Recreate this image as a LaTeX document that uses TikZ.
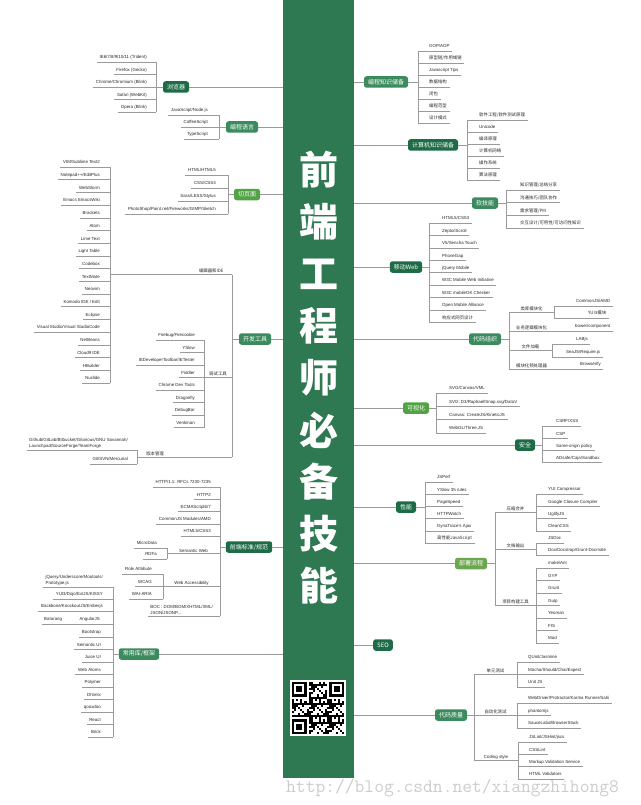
\documentclass[tikz,border=0pt]{standalone}
\usepackage{fontspec}
\setmainfont{Liberation Sans}
\newfontfamily\cjk{Noto Sans CJK SC}
\newfontfamily\urlfont{Latin Modern Mono}
\usetikzlibrary{calc}

\definecolor{bargreen}{HTML}{2E7852}
\definecolor{darkgreen}{HTML}{1E6B47}
\definecolor{midgreen}{HTML}{3C8B5E}
\definecolor{brightgreen}{HTML}{52A345}
\definecolor{olivegreen}{HTML}{6BA74F}
\definecolor{wiregray}{HTML}{9A9A9A}

\tikzset{
  topic/.style={fill=#1, rounded corners=2.5pt, text=white, font=\cjk\fontsize{6}{6}\selectfont,
    inner xsep=4pt, inner ysep=0pt, minimum height=11.5pt},
  leaf/.style={font=\fontsize{4.4}{5.8}\selectfont, text=black!85, inner xsep=2.5pt, inner ysep=1pt},
  lab/.style={font=\fontsize{4.4}{5.8}\selectfont, text=black!85, inner sep=1pt},
  wire/.style={draw=wiregray, line width=0.45pt},
}

% leaf to the left / right of a trunk at x=#3, underline at y=#4
\newcommand\lleaf[5][10]{%
  \coordinate (#2-u) at (#3,#4);
  \node[leaf, anchor=base east] (#2) at ([xshift=2.5pt-#1pt, yshift=3.2pt]#2-u) {#5};
  \draw[wire] (#2.west |- #2-u) -- (#2-u);}
\newcommand\rleaf[5][11]{%
  \coordinate (#2-u) at (#3,#4);
  \node[leaf, anchor=base west] (#2) at ([xshift=#1pt-2.5pt, yshift=3.2pt]#2-u) {#5};
  \draw[wire] (#2-u) -- (#2.east |- #2-u);}

\begin{document}
\begin{tikzpicture}[x=1pt, y=-1pt]
\useasboundingbox (0,0) rectangle (640,805);

\node[fill=bargreen, anchor=north west, minimum width=71pt, minimum height=778pt, inner sep=0] (bar) at (283,0) {};
\foreach \c [count=\k from 0] in {前,端,工,程,师,必,备,技,能}
  \node[font=\cjk\bfseries\fontsize{39}{39}\selectfont, text=white] (title\k) at (319,170+52*\k) {\c};

% browsers
\node[topic=darkgreen] (br) at (176,87) {浏览器};
\foreach \t [count=\i] in {IE6/7/8/9/10/11 (Trident), Firefox (Gecko), Chrome/Chromium (Blink), Safari (WebKit), Opera (Blink)}
  {\lleaf[9]{br\i}{156}{49.5+12.5*\i}{\t}}
\draw[wire] (br1-u) -- (br5-u);
\draw[wire] (br.west) -- (br.west -| br1-u);
\draw[wire] (br.east) -- (br.east -| bar.west);

% languages
\node[topic=midgreen] (pl) at (242,127) {编程语言};
\foreach \t [count=\i] in {JavaScript/Node.js, CoffeeScript, TypeScript}
  {\lleaf[11]{pl\i}{219}{103+12*\i}{\t}}
\draw[wire] (pl1-u) -- (pl3-u);
\draw[wire] (pl.west) -- (pl.west -| pl1-u);
\draw[wire] (pl.east) -- (pl.east -| bar.west);

% pages
\node[topic=brightgreen] (pg) at (247,194.5) {切页面};
\foreach \t [count=\i] in {HTML/HTML5, CSS/CSS3, Sass/LESS/Stylus, PhotoShop/Paint.net/Fireworks/GIMP/Sketch}
  {\lleaf[12]{pg\i}{228}{162+13*\i}{\t}}
\draw[wire] (pg1-u) -- (pg4-u);
\draw[wire] (pg.west) -- (pg.west -| pg1-u);
\draw[wire] (pg.east) -- (pg.east -| bar.west);

% tools
\node[topic=midgreen] (dt) at (255,339) {开发工具};
\coordinate (dtT) at (232,274.5);
\coordinate (dtB) at (232,457);
\draw[wire] (dtT) -- (dtB);
\draw[wire] (dt.west) -- (dt.west -| dtT);
\draw[wire] (dt.east) -- (dt.east -| bar.west);
\foreach \t [count=\i] in {VIM/Sublime Text2, Notepad++/EditPlus, WebStorm, Emacs EmacsWiki, Brackets, Atom,
    Lime Text, Light Table, Codebox, TextMate, Neovim, Komodo IDE / Edit, Eclipse,
    Visual Studio/Visual StudioCode, NetBeans, Cloud9 IDE, HBuilder, Nuclide}
  {\lleaf{ed\i}{110}{154.3+12.7*\i}{\t}}
\draw[wire] (ed1-u) -- (ed18-u);
\draw[wire] (ed1-u |- dtT) -- node[lab, above, pos=.83] {\cjk 编辑器和IDE} (dtT);
\foreach \t [count=\i] in {Firebug/Firecookie, YSlow, IEDeveloperToolbar/IETester, Fiddler, Chrome Dev Tools,
    Dragonfly, DebugBar, Venkman}
  {\lleaf[9]{db\i}{204}{327.5+12.5*\i}{\t}}
\draw[wire] (db1-u) -- (db8-u);
\draw[wire] (db4-u) -- node[lab, above] {\cjk 调试工具} (db4-u -| dtT);
\coordinate (vc1-u) at (137,450);
\node[leaf, anchor=south east, align=left] (vc1) at ([xshift=-6.5pt, yshift=0.5pt]vc1-u)
  {Github/GitLab/Bitbucket/Gitorious/GNU Savannah/\\Launchpad/SourceForge/TeamForge};
\draw[wire] (vc1.west |- vc1-u) -- (vc1-u);
\lleaf[9]{vc2}{137}{464}{Git/SVN/Mercurial}
\draw[wire] (vc1-u) -- (vc2-u);
\draw[wire] (dtB -| vc1-u) -- node[lab, above, pos=.19] {\cjk 版本管理} (dtB);

% standards
\node[topic=darkgreen] (st) at (249,547) {前端标准/规范};
\foreach \t [count=\i] in {HTTP/1.1: RFCs 7230-7235, HTTP2, ECMAScript6/7, CommonJS Modules/AMD, HTML5/CSS3}
  {\lleaf[9]{st\i}{220}{474.6+12.3*\i}{\t}}
\lleaf{sw1}{167}{548}{MicroData}
\lleaf{sw2}{167}{559}{RDFa}
\draw[wire] (sw1-u) -- (sw2-u);
\coordinate (swj) at ($(sw1-u)!.5!(sw2-u)$);
\draw[wire] (swj) -- node[lab, above] {Semantic Web} (swj -| st1-u);
\lleaf[11]{wa1}{163}{574}{Role Attribute}
\lleaf[11]{wa2}{163}{586.5}{WCAG}
\lleaf[11]{wa3}{163}{599}{WAI-ARIA}
\draw[wire] (wa1-u) -- (wa3-u);
\draw[wire] (wa2-u) -- node[lab, above] {Web Accessibility} (wa2-u -| st1-u);
\coordinate (st6-u) at (220,616);
\node[leaf, anchor=south east, align=left] (st6) at ([xshift=-4.5pt, yshift=0.5pt]st6-u)
  {BOC : DOM/BOM/XHTML/XML/\\JSON/JSONP...};
\draw[wire] (st6.west |- st6-u) -- (st6-u);
\draw[wire] (st1-u) -- (st6-u);
\draw[wire] (st.west) -- (st.west -| st1-u);
\draw[wire] (st.east) -- (st.east -| bar.west);

% libraries
\node[topic=midgreen] (lib) at (139,654) {常用库/框架};
\coordinate (lib1-u) at (113,587);
\node[leaf, anchor=south east, align=left] (lib1) at ([xshift=-7.5pt, yshift=0.5pt]lib1-u)
  {jQuery/Underscore/Mootools/\\Prototype.js};
\draw[wire] (lib1.west |- lib1-u) -- (lib1-u);
\lleaf{lib2}{113}{599}{YUI3/Dojo/ExtJS/KISSY}
\lleaf{lib3}{113}{611}{Backbone/KnockoutJS/Emberjs}
\lleaf[13]{lib4}{113}{624}{AngularJS}
\node[leaf, anchor=base east] (bat) at ([xshift=-12pt]lib4.base west) {Batarang};
\draw[wire] (bat.west |- lib4-u) -- (lib4.west |- lib4-u);
\foreach \t [count=\i from 5] in {Bootstrap, Semantic UI, Juice UI, Web Atoms, Polymer, Dhtmlx, qooxdoo, React, Brick}
  {\lleaf[12]{lib\i}{113}{574.5+12.5*\i}{\t}}
\draw[wire] (lib1-u) -- (lib13-u);
\draw[wire] (lib.west) -- (lib.west -| lib1-u);
\draw[wire] (lib.east) -- (lib.east -| bar.west);

% programming knowledge
\node[topic=midgreen] (kn) at (386,82) {编程知识储备};
\foreach \t [count=\i] in {OOP/AOP, {\cjk 原型链/作用域链}, Javascript Tips, {\cjk 数据结构}, {\cjk 闭包},
    {\cjk 编程范型}, {\cjk 设计模式}}
  {\rleaf{kn\i}{418}{39+12*\i}{\t}}
\draw[wire] (kn1-u) -- (kn7-u);
\draw[wire] (kn.east) -- (kn.east -| kn1-u);
\draw[wire] (kn.west) -- (kn.west -| bar.east);

% computer knowledge
\node[topic=darkgreen] (cs) at (433,145) {计算机知识储备};
\foreach \t [count=\i] in {{\cjk 软件工程/软件测试原理}, Unicode, {\cjk 编译原理}, {\cjk 计算机网络}, {\cjk 操作系统},
    {\cjk 算法原理}}
  {\rleaf[12]{cs\i}{467}{108+12*\i}{\t}}
\draw[wire] (cs1-u) -- (cs6-u);
\draw[wire] (cs.east) -- (cs.east -| cs1-u);
\draw[wire] (cs.west) -- (cs.west -| bar.east);

% soft skills
\node[topic=midgreen] (sk) at (485,203) {软技能};
\foreach \t [count=\i] in {知识管理/总结分享, 沟通技巧/团队协作, 需求管理/PM, 交互设计/可用性/可访问性知识}
  {\rleaf[14]{sk\i}{506}{177.3+12.7*\i}{\cjk\t}}
\draw[wire] (sk1-u) -- (sk4-u);
\draw[wire] (sk.east) -- (sk.east -| sk1-u);
\draw[wire] (sk.west) -- (sk.west -| bar.east);

% mobile web
\node[topic=darkgreen] (mw) at (406,267) {移动Web};
\foreach \t [count=\i] in {HTML5/CSS3, Zepto/iScroll, V5/Sencha Touch, PhoneGap, jQuery Mobile,
    W3C Mobile Web Initiative, W3C mobileOK Checker, Open Mobile Alliance, {\cjk 响应式网页设计}}
  {\rleaf[13]{mw\i}{429}{210.6+12.4*\i}{\t}}
\draw[wire] (mw1-u) -- (mw9-u);
\draw[wire] (mw.east) -- (mw.east -| mw1-u);
\draw[wire] (mw.west) -- (mw.west -| bar.east);

% code organisation
\node[topic=midgreen] (co) at (485,339) {代码组织};
\coordinate (coT) at (509,312);
\coordinate (coM) at (509,331);
\coordinate (coF) at (509,350.5);
\coordinate (coB) at (509,369);
\draw[wire] (coT) -- (coB);
\draw[wire] (co.east) -- (co.east -| coT);
\draw[wire] (co.west) -- (co.west -| bar.east);
\rleaf[22]{co1}{554}{306}{CommonJS/AMD}
\rleaf[34]{co2}{554}{318}{\cjk YUI3模块}
\draw[wire] (co1-u) -- (co2-u);
\draw[wire] (coT) -- node[lab, above] {\cjk 类库模块化} (coT -| co1-u);
\rleaf[21]{co3}{554}{331}{bower/component}
\draw[wire] (coM) -- node[lab, above] {\cjk 业务逻辑模块化} (coM -| co3-u);
\rleaf[24]{co4}{552}{344}{LABjs}
\rleaf[14]{co5}{552}{357}{SeaJS/Require.js}
\draw[wire] (co4-u) -- (co5-u);
\draw[wire] (coF) -- node[lab, above] {\cjk 文件加载} (coF -| co4-u);
\rleaf[26]{co6}{554}{369}{Browserify}
\draw[wire] (coB) -- node[lab, above] {\cjk 模块化预处理器} (coB -| co6-u);

% visualisation
\node[topic=brightgreen] (vz) at (416,408) {可视化};
\foreach \t [count=\i] in {SVG/Canvas/VML, SVG: D3/Raphael/Snap.svg/DataV, Canvas: CreateJS/KineticJS, WebGL/Three.JS}
  {\rleaf[13]{vz\i}{436}{379.7+13.3*\i}{\t}}
\draw[wire] (vz1-u) -- (vz4-u);
\draw[wire] (vz.east) -- (vz.east -| vz1-u);
\draw[wire] (vz.west) -- (vz.west -| bar.east);

% security
\node[topic=darkgreen] (sec) at (525,445) {安全};
\foreach \t [count=\i] in {CSRF/XSS, CSP, Same-origin policy, ADsafe/Caja/Sandbox}
  {\rleaf[14]{sec\i}{542}{413.8+12.2*\i}{\t}}
\draw[wire] (sec1-u) -- (sec4-u);
\draw[wire] (sec.east) -- (sec.east -| sec1-u);
\draw[wire] (sec.west) -- (sec.west -| bar.east);

% performance
\node[topic=darkgreen] (pf) at (406,507) {性能};
\foreach \t [count=\i] in {JSPerf, YSlow 35 rules, PageSpeed, HTTPWatch, DynaTrace's Ajax, {\cjk 高性能JavaScript}}
  {\rleaf[12]{pf\i}{425}{469.8+12.2*\i}{\t}}
\draw[wire] (pf1-u) -- (pf6-u);
\draw[wire] (pf.east) -- (pf.east -| pf1-u);
\draw[wire] (pf.west) -- (pf.west -| bar.east);

% deployment
\node[topic=olivegreen] (dp) at (471,563.5) {部署流程};
\coordinate (dpT) at (495,512.5);
\coordinate (dpM) at (495,549);
\coordinate (dpB) at (495,605.5);
\draw[wire] (dpT) -- (dpB);
\draw[wire] (dp.east) -- (dp.east -| dpT);
\draw[wire] (dp.west) -- (dp.west -| bar.east);
\foreach \t [count=\i] in {YUI Compressor, Google Closure Compiler, UglifyJS, CleanCSS}
  {\rleaf[12]{dp\i}{536}{481.6+12.35*\i}{\t}}
\draw[wire] (dp1-u) -- (dp4-u);
\draw[wire] (dpT) -- node[lab, above] {\cjk 压缩合并} (dpT -| dp1-u);
\rleaf[12]{dp5}{536}{543}{JSDoc}
\rleaf[12]{dp6}{536}{555}{Dox/Docstrap/Grunt-Docmate}
\draw[wire] (dp5-u) -- (dp6-u);
\draw[wire] (dpM) -- node[lab, above] {\cjk 文档输出} (dpM -| dp5-u);
\foreach \t [count=\i from 7] in {make/Ant, GYP, Grunt, Gulp, Yeoman, FIS, Mod}
  {\rleaf[12]{dp\i}{536}{480.5+12.5*\i}{\t}}
\draw[wire] (dp7-u) -- (dp13-u);
\draw[wire] (dpB) -- node[lab, above] {\cjk 项目构建工具} (dpB -| dp7-u);

% seo
\node[topic=darkgreen] (seo) at (383,645) {SEO};
\draw[wire] (seo.west) -- (seo.west -| bar.east);

% code quality
\node[topic=midgreen] (cq) at (451,715) {代码质量};
\coordinate (cqT) at (474,674.5);
\coordinate (cqM) at (474,715.5);
\coordinate (cqB) at (474,760.5);
\draw[wire] (cqT) -- (cqB);
\draw[wire] (cq.east) -- (cq.east -| cqT);
\draw[wire] (cq.west) -- (cq.west -| bar.east);
\foreach \t [count=\i] in {QUnit/Jasmine, Mocha/Should/Chai/Expect, Unit JS}
  {\rleaf{cq\i}{517}{649.5+12.5*\i}{\t}}
\draw[wire] (cq1-u) -- (cq3-u);
\draw[wire] (cqT) -- node[lab, above] {\cjk 单元测试} (cqT -| cq1-u);
\foreach \t [count=\i from 4] in {WebDriver/Protractor/Karma Runner/Sahi, phantomjs, SauceLabs/BrowserStack}
  {\rleaf{cq\i}{517}{653+12.5*\i}{\t}}
\draw[wire] (cq4-u) -- (cq6-u);
\draw[wire] (cqM) -- node[lab, above] {\cjk 自动化测试} (cqM -| cq4-u);
\foreach \t [count=\i from 7] in {JSLint/JSHint/jscs, CSSLint, Markup Validation Service, HTML Validators}
  {\rleaf{cq\i}{518}{655.7+12.33*\i}{\t}}
\draw[wire] (cq7-u) -- (cq10-u);
\draw[wire] (cqB) -- node[lab, above] {Coding style} (cqB -| cq7-u);

% qr code
\node[fill=white, anchor=north west, minimum size=56pt, inner sep=0] (qr) at (290,680) {};
\foreach \i in {0,...,24}
  \foreach \j in {0,...,24} {
    \pgfmathtruncatemacro\bit{mod(\i*\i*3+\j*\j*5+\i*\j*7+\i*11+\j*13,9)<4}
    \pgfmathtruncatemacro\fz{(\i<8 && \j<8) || (\i>16 && \j<8) || (\i<8 && \j>16)}
    \ifnum\bit=1 \ifnum\fz=0 \fill (292+2.08*\i,682+2.08*\j) rectangle +(2.08,2.08); \fi\fi
  }
\foreach \a/\b in {0/0,18/0,0/18} {
  \fill (292+2.08*\a,682+2.08*\b) rectangle +(14.56,14.56);
  \fill[white] (294.08+2.08*\a,684.08+2.08*\b) rectangle +(10.4,10.4);
  \fill (296.16+2.08*\a,686.16+2.08*\b) rectangle +(6.24,6.24);
}

% watermark
\node[font=\urlfont\fontsize{19}{19}\selectfont, text=black!20, anchor=base west, inner sep=0] (wm)
  at (286,792) {http://blog.csdn.net/xiangzhihong8};
\end{tikzpicture}
\end{document}
